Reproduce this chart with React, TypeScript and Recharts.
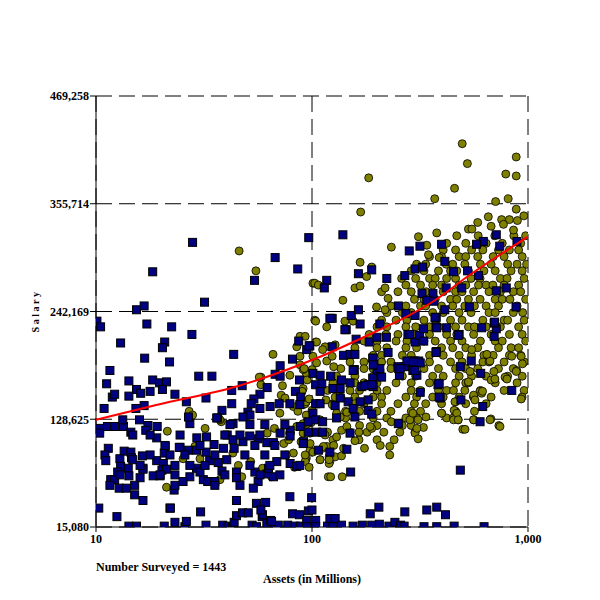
import { CartesianGrid, Scatter, ScatterChart, XAxis, YAxis } from "recharts";

// [assets in millions, salary in thousands]
const navy: [number, number][] = [
  [10.1, 232], [10.5, 226], [28, 315], [18.3, 284], [15.4, 244], [16.7, 248], [31.8, 252], [17.2, 229],
  [22.4, 226], [27.8, 218], [13, 209], [20.8, 210], [20.3, 204], [16.8, 193], [21.9, 189], [43.4, 197],
  [11.6, 180], [11.2, 166], [14.2, 169], [18.3, 170], [19.7, 167], [21.2, 168], [29.9, 174], [34.4, 174],
  [15.4, 160], [16.1, 156], [17.8, 158], [20.3, 160], [11.9, 152], [12.2, 155], [14.2, 153], [23.2, 155],
  [26.2, 147], [32.3, 151], [42.5, 159], [47.5, 164], [10.9, 140], [15.3, 140], [16.7, 143], [42.5, 145],
  [38.3, 138], [36.6, 130], [54.2, 275], [67.5, 299], [85.9, 287], [96.6, 320], [81.2, 192], [71.2, 185],
  [67.5, 176], [71.2, 174], [62, 162], [57.4, 155], [64, 142], [70.5, 145], [53.8, 150], [52.3, 145],
  [50.5, 136], [86.8, 211], [97.7, 206], [94.5, 202], [87.5, 170], [83.8, 158], [88.7, 152],
  [10.4, 119], [10.4, 114], [11.3, 121], [12.2, 121], [13.4, 121], [13.3, 128], [14.5, 115], [14.8, 112],
  [15.9, 128], [17.4, 122], [17.0, 117], [19.2, 121], [19.1, 109], [20.9, 100], [20.7, 93], [24.5, 99],
  [11.4, 98], [11.0, 91], [11.1, 85], [13.5, 95], [14.5, 94], [14.6, 88], [12.9, 87], [13.0, 79],
  [14.1, 77], [14.8, 86], [16.4, 90], [16.5, 77], [11.7, 65], [12.2, 65], [12.6, 73], [12.8, 56],
  [13.8, 56], [14.2, 69], [16.0, 67], [16.5, 76], [18.4, 69], [19.8, 69], [19.1, 85], [20.5, 82],
  [20.2, 75], [21.2, 76], [15.1, 49], [16.5, 43], [23.0, 54], [22.0, 35], [10.3, 35], [12.5, 26],
  [14.2, 16], [15.4, 16], [20.7, 16], [23.2, 20],
  [24.3, 99], [26.7, 96], [29.3, 109], [32.5, 110], [35.2, 102], [29.2, 96], [32.3, 94], [33.6, 85],
  [36.8, 83], [40.3, 86], [38.9, 98], [43.6, 98], [40.5, 112], [43.1, 107], [47.9, 105], [51.5, 111],
  [56.3, 108], [61.8, 104], [66.3, 104], [71.2, 114], [79.2, 117], [88.3, 121], [79.2, 111], [91.4, 105],
  [25.3, 63], [27.2, 68], [29.2, 77], [31.4, 65], [32.9, 63], [35.5, 63], [30.3, 73], [38.3, 74],
  [44.7, 73], [44.7, 67], [54.4, 73], [56.3, 63], [61.8, 71], [66.3, 68], [53.5, 56], [62.9, 77],
  [68.7, 84], [79.2, 82], [85.0, 79], [57.4, 140], [79, 145], [87.8, 144], [51.6, 133], [47.9, 131],
  [43.1, 124], [36.2, 130], [27.2, 124], [26.8, 131], [44.7, 43], [55.3, 40], [79, 47],
  [20.9, 101], [30.3, 101], [54.4, 101], [67.3, 101], [17.8, 91], [22, 91], [25.8, 91], [35.5, 91],
  [48.9, 91], [60.5, 91], [74.9, 91], [16, 80], [23.2, 80], [27.2, 80], [32, 80], [51.6, 80],
  [63.8, 80], [87.8, 80], [12.9, 70], [19.8, 70], [23.2, 70], [39.5, 70], [57.4, 70], [71, 70],
  [11.6, 59], [15.1, 59], [23.2, 59], [35.5, 59], [46.4, 59], [17.8, 112], [24.5, 112], [39.5, 112],
  [46.4, 112], [57.4, 112], [41.7, 123], [51.6, 123], [60.5, 123], [74.9, 123],
  [22.1, 35], [25.8, 15.4], [26.2, 21], [30.5, 31], [32.3, 17], [38.6, 17], [40.9, 16], [42.9, 15.4],
  [43.6, 20], [44.7, 27], [47.7, 30], [50.7, 30], [52.8, 17], [55.3, 15.4], [58.8, 26], [61, 41],
  [61.8, 19], [64.3, 22], [67.5, 15.4], [69.8, 17], [77.2, 17], [81.3, 29], [83.4, 16], [87.5, 28],
  [88.3, 16], [96.2, 32], [94.5, 22], [94.5, 15.4], [104, 22], [104, 15.4], [118, 16], [121, 24],
  [125, 15.4], [128, 24], [137, 17], [155, 16], [171, 17], [186, 29], [189, 17], [204, 36],
  [205, 18], [227, 16], [242, 20], [257, 17], [269, 31], [267, 16], [330, 15.4], [340, 33],
  [378, 36], [378, 15.4], [415, 28], [455, 16], [626, 15.4], [59, 28], [58, 33], [65, 21], [100, 33],
  [99.6, 46], [486, 75], [151, 73], [251, 124], [600, 126], [617, 142], [489, 149], [841, 159],
  [392, 151], [383, 165], [317, 157], [486, 184], [604, 177], [546, 190], [376, 200], [225, 199],
  [300, 190], [312, 190], [297, 182], [306, 175], [254, 175], [252, 182], [480, 218], [420, 225],
  [375, 226], [697, 216], [713, 224], [697, 230], [610, 225], [300, 210], [315, 217], [329, 211],
  [278, 218], [191, 193], [206, 229], [184, 210], [167, 229], [144, 223], [124, 205], [97, 206],
  [140, 196], [150, 197], [158, 197], [157, 181], [193, 186], [200, 177], [206, 177], [191, 172],
  [101, 177], [109, 175], [122, 174], [104, 165], [111, 166], [125, 161], [135, 161], [137, 170],
  [150, 167], [155, 180], [170, 163], [182, 165], [192, 163], [104, 145], [109, 158], [109, 145],
  [101, 135], [128, 143], [135, 151], [147, 147], [155, 140], [167, 147], [182, 149], [182, 138],
  [189, 134], [96, 126], [104, 128], [112, 126], [130, 130], [158, 131], [96, 115], [105, 115],
  [112, 115], [150, 114], [91, 103], [107, 96], [121, 94], [145, 97],
  [713, 323], [621, 316], [578, 313], [740, 311], [889, 316], [398, 313], [316, 311], [282, 306],
  [412, 295], [452, 284], [525, 285], [590, 280], [300, 287], [325, 289], [269, 280], [418, 267],
  [493, 267], [323, 261], [363, 261], [340, 254], [366, 253], [713, 264], [793, 267], [412, 244],
  [535, 247], [880, 247], [300, 238], [376, 236], [700, 231], [475, 217], [293, 190], [317, 188],
  [269, 184], [293, 180], [388, 166], [388, 152],
  [139, 323], [117, 275], [114, 267], [164, 282], [189, 286], [222, 277], [152, 238], [164, 244],
  [124, 235], [200, 215], [221, 215], [251, 248], [272, 240], [160, 213], [206, 182], [210, 173],
  [176, 164], [189, 165], [250, 184], [275, 190], [300, 180], [121, 235], [142, 223], [284, 218],
  [328, 224], [371, 236], [378, 225], [295, 189], [255, 182], [375, 199], [192, 193], [192, 186],
];

const olive: [number, number][] = [
  [496, 419], [524, 398], [882, 405], [789, 387], [882, 385], [183, 383], [457, 372], [370, 361],
  [708, 358], [810, 361], [168, 347], [882, 350], [655, 342], [755, 339], [820, 339], [957, 343],
  [893, 338], [585, 336], [530, 329], [550, 329], [675, 332], [770, 334], [857, 328], [378, 325],
  [311, 321], [233, 310], [167, 294], [158, 267], [167, 269], [139, 254], [103, 233], [199, 247],
  [218, 244], [340, 312], [346, 302], [388, 299],
  [46, 306], [55, 285], [66, 197], [101, 272], [104, 232], [104, 210], [88, 186], [58, 173],
  [58, 165], [73, 164], [27, 137], [71, 135], [21.4, 116], [28, 133], [32, 119], [38, 126],
  [28.7, 100], [30.3, 87], [25.3, 87], [21.2, 57], [37.5, 65], [43, 93], [45.6, 80], [47.3, 68],
  [52, 84], [59, 77], [65, 68], [62, 114], [67, 119], [74, 103], [79, 114], [82, 93],
  [94, 87], [98, 96], [91, 144], [94, 133], [100, 138], [85, 121], [91, 114], [98, 103],
  [57, 173], [72, 154], [78, 107], [76, 91], [83, 78], [94, 89], [93, 84], [117, 100],
  [121, 84], [128, 89], [119, 68], [109, 128], [115, 112], [128, 152], [130, 135], [94, 177],
  [105, 188], [117, 190], [126, 184], [88, 216], [93, 216], [105, 210], [115, 205], [128, 207],
  [37.5, 128], [75, 151], [82, 142], [79, 175], [91, 161], [93, 145], [94, 123],
  [122, 68], [138, 68], [109, 86], [120, 82], [120, 89], [207, 101], [229, 100], [229, 91],
  [137, 90], [158, 106], [165, 115], [189, 119], [186, 121], [233, 126], [300, 114], [310, 108],
  [328, 120], [306, 119], [284, 128], [310, 128], [337, 131], [293, 135], [398, 135], [451, 130],
  [475, 128], [560, 128], [499, 118], [673, 129], [733, 122], [610, 158], [560, 152], [939, 152],
  [462, 147], [455, 138], [530, 167], [599, 158], [675, 170], [794, 172], [887, 180],
  [452, 159], [459, 147], [468, 135], [452, 128], [475, 128], [511, 118], [560, 154], [568, 149],
  [610, 156], [616, 158], [560, 128], [667, 128], [742, 121], [841, 195], [930, 195], [942, 187],
  [882, 179], [930, 150], [398, 135], [783, 173], [799, 171], [703, 171], [695, 179], [667, 190],
  [645, 197], [549, 202], [539, 179], [530, 168],
  [94, 147], [91, 124], [98, 114], [93, 91], [109, 86], [120, 86], [101, 94], [113, 100],
  [126, 101], [130, 110], [137, 117], [145, 121], [135, 131], [124, 144], [116, 149], [145, 136],
  [103, 272], [107, 270], [117, 226], [142, 232], [155, 232], [124, 195], [112, 202], [101, 195],
  [91, 181], [100, 181], [179, 279], [189, 289], [210, 263], [225, 256], [218, 267],
  [85, 205], [88, 195], [92, 182], [95, 170], [90, 158], [97, 150], [86, 137], [99, 125],
  [89, 105], [97, 78],
];

// the dense olive core, read band by band: [salary in thousands, assets along that band]
const oliveCore: [number, number[]][] = [
  [322, [468, 588, 702, 860, 975]],
  [314, [420, 515, 640, 760, 925]],
  [307, [405, 462, 548, 618, 730, 820, 905]],
  [300, [350, 398, 480, 515, 585, 690, 775, 940]],
  [292, [305, 336, 418, 448, 510, 602, 675, 805, 890, 985]],
  [285, [288, 330, 385, 438, 468, 530, 625, 705, 835, 940]],
  [277, [260, 302, 350, 372, 420, 462, 545, 600, 745, 800, 960]],
  [270, [272, 318, 362, 398, 480, 515, 590, 640, 688, 775, 905]],
  [263, [250, 288, 338, 405, 462, 495, 560, 660, 745, 855, 925]],
  [255, [298, 330, 372, 438, 468, 530, 600, 705, 760, 825, 975]],
  [248, [232, 272, 318, 336, 398, 448, 510, 565, 640, 730, 890]],
  [241, [222, 262, 288, 362, 405, 480, 545, 660, 705, 855, 945]],
  [233, [210, 245, 275, 330, 372, 438, 495, 618, 775, 805, 960]],
  [226, [200, 222, 272, 302, 350, 385, 462, 530, 565, 640, 745, 905]],
  [218, [184, 220, 250, 298, 350, 420, 468, 560, 675, 820, 940]],
  [211, [174, 200, 245, 275, 330, 372, 438, 495, 602, 705, 760, 975]],
  [204, [158, 200, 222, 272, 305, 398, 448, 515, 585, 730, 835, 905]],
  [196, [150, 192, 210, 262, 288, 350, 405, 480, 548, 625, 690, 820, 925]],
  [189, [150, 174, 210, 232, 288, 350, 438, 495, 618, 660, 775, 960]],
  [182, [136, 174, 192, 232, 260, 330, 385, 462, 515, 585, 730, 855]],
  [174, [130, 158, 192, 210, 262, 302, 362, 405, 480, 548, 640, 805, 940]],
  [167, [125, 158, 174, 200, 245, 288, 350, 385, 462, 515, 705, 890]],
  [159, [118, 150, 166, 200, 222, 288, 318, 385, 420, 510, 602, 775, 960]],
  [152, [136, 158, 192, 210, 272, 305, 362, 405, 480, 560, 675]],
  [145, [125, 158, 174, 210, 250, 298, 336, 398, 515, 640]],
  [137, [143, 166, 200, 232, 288, 318, 462, 565]],
  [130, [143, 192, 222, 272, 305, 420]],
  [122, [166, 200, 262, 288]],
  [115, [118, 150, 180, 215, 255, 300]],
  [107, [125, 165, 200, 240]],
  [98, [112, 140, 175]],
];

// fitted trend
const trend: [number, number][] = [
  [10, 128], [19, 143.6], [46, 164], [109, 194.5], [206, 223], [255, 233], [371, 254], [525, 279], [1000, 321],
];

const xTicks = [10, 100, 1000];
const yTicks = [15080, 128625, 242169, 355714, 469258];

const toRows = (pts: [number, number][]) => pts.map(([x, y]) => ({ x, y: y * 1000 }));
const coreRows = oliveCore.flatMap(([s, xs]) => xs.map((x) => ({ x, y: s * 1000 })));
const oliveRows = [...coreRows, ...toRows(olive)];

const tickFont = {
  fill: "#000",
  fontSize: 12,
  fontWeight: 700,
  fontFamily: "'Liberation Serif', 'DejaVu Serif', serif",
};

const Square = (p: any) => (
  <rect x={p.cx - 4} y={p.cy - 4} width={8} height={8} fill="#000080" stroke="#000" strokeWidth={1} />
);
const Dot = (p: any) => <circle cx={p.cx} cy={p.cy} r={4} fill="#808000" stroke="#000" strokeWidth={0.8} />;
const NoMark = () => <g />;

export default function App() {
  return (
    <div style={{ position: "absolute", left: 0, top: 0, width: 600, height: 600, background: "#fff" }}>
      <ScatterChart width={600} height={600} margin={{ top: 96, right: 72, bottom: 0, left: 0 }}>
        <CartesianGrid stroke="#000" strokeDasharray="16 7" />
        <XAxis
          type="number"
          dataKey="x"
          scale="log"
          domain={[10, 1000]}
          ticks={xTicks}
          allowDataOverflow
          height={73}
          tick={tickFont}
          tickSize={5}
          tickFormatter={(v: number) => v.toLocaleString("en-US")}
          axisLine={{ stroke: "#000" }}
          tickLine={{ stroke: "#000" }}
        />
        <YAxis
          type="number"
          dataKey="y"
          domain={[15080, 469258]}
          ticks={yTicks}
          allowDataOverflow
          width={96}
          tick={tickFont}
          tickSize={6}
          tickMargin={1}
          tickFormatter={(v: number) => v.toLocaleString("en-US")}
          axisLine={{ stroke: "#000" }}
          tickLine={{ stroke: "#000" }}
        />
        <Scatter data={oliveRows} shape={Dot} isAnimationActive={false} />
        <Scatter data={toRows(navy)} shape={Square} isAnimationActive={false} />
        <Scatter
          data={toRows(trend)}
          shape={NoMark}
          line={{ stroke: "#ff0000", strokeWidth: 2 }}
          lineJointType="monotoneX"
          isAnimationActive={false}
        />
      </ScatterChart>
      <svg
        width={600}
        height={600}
        style={{ position: "absolute", left: 0, top: 0, pointerEvents: "none" }}
        fontFamily="'Liberation Serif', 'DejaVu Serif', serif"
        fontWeight={700}
      >
        <text x={39} y={311} fontSize={10} letterSpacing={2.5} textAnchor="middle" transform="rotate(-90 39 311)">
          Salary
        </text>
        <text x={96} y={571} fontSize={12}>
          Number Surveyed = 1443
        </text>
        <text x={312} y={583} fontSize={12} textAnchor="middle">
          Assets (in Millions)
        </text>
      </svg>
    </div>
  );
}
